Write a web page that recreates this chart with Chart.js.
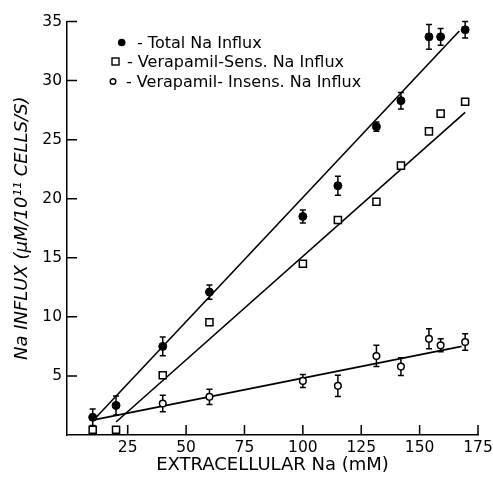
<!DOCTYPE html>
<html>
<head>
<meta charset="utf-8">
<script src="https://cdn.jsdelivr.net/npm/chart.js@4.4.0/dist/chart.umd.min.js"></script>
<style>
  html, body { margin: 0; padding: 0; background: #fff; }
</style>
</head>
<body>
<canvas id="naChart" width="493" height="479"></canvas>
<script>
const naConc = [10, 20, 40, 60, 100, 115, 131.5, 142, 154, 159, 169.5];
const totalInflux = [1.5, 2.5, 7.5, 12.1, 18.5, 21.1, 26.1, 28.3, 33.7, 33.7, 34.3];
const totalErr = [0.7, 0.8, 0.8, 0.6, 0.55, 0.8, 0.4, 0.7, 1.05, 0.7, 0.7];
const sensInflux = [0.45, 0.45, 5.05, 9.55, 14.5, 18.2, 19.75, 22.8, 25.7, 27.2, 28.2];
const insensInflux = [null, null, 2.67, 3.23, 4.58, 4.16, 6.69, 5.79, 8.15, 7.59, 7.87];
const insensErr = [null, null, 0.7, 0.65, 0.55, 0.9, 0.9, 0.75, 0.85, 0.55, 0.7];

// fitted lines, end points
const totalFitX = [11, 167];
const totalFitY = [1.4, 34.2];
const sensFitX = [20, 169.5];
const sensFitY = [1.1, 27.3];
const insensFitX = [11, 168];
const insensFitY = [1.3, 7.5];

const xTicks = [25, 50, 75, 100, 125, 150, 175];
const yTicks = [5, 10, 15, 20, 25, 30, 35];

const legendLabels = ["- Total Na Influx", "- Verapamil-Sens. Na Influx", "- Verapamil- Insens. Na Influx"];

const FONT = "'DejaVu Sans', sans-serif";

function toPoints(xs, ys) {
  return xs.map((x, i) => ({ x: x, y: ys[i] }));
}

// vertical error bars with small caps
const errorBars = {
  id: "errorBars",
  beforeDatasetsDraw(chart) {
    const ctx = chart.ctx;
    const xs = chart.scales.x;
    const ys = chart.scales.y;
    ctx.save();
    ctx.strokeStyle = "#000";
    ctx.lineWidth = 1.5;
    chart.data.datasets.forEach(ds => {
      if (!ds.errors) return;
      ds.data.forEach((p, i) => {
        const e = ds.errors[i];
        if (p.y === null || e === null) return;
        const px = xs.getPixelForValue(p.x);
        const top = ys.getPixelForValue(p.y + e);
        const bot = ys.getPixelForValue(p.y - e);
        ctx.beginPath();
        ctx.moveTo(px, top);
        ctx.lineTo(px, bot);
        ctx.moveTo(px - 3, top);
        ctx.lineTo(px + 3, top);
        ctx.moveTo(px - 3, bot);
        ctx.lineTo(px + 3, bot);
        ctx.stroke();
      });
    });
    ctx.restore();
  }
};

// tick marks pointing into the plot
const innerTicks = {
  id: "innerTicks",
  afterDraw(chart) {
    const { ctx, chartArea, scales } = chart;
    ctx.save();
    ctx.strokeStyle = "#000";
    ctx.lineWidth = 1.5;
    ctx.beginPath();
    scales.x.ticks.forEach(t => {
      const px = scales.x.getPixelForValue(t.value);
      ctx.moveTo(px, chartArea.bottom);
      ctx.lineTo(px, chartArea.bottom - 10);
    });
    scales.y.ticks.forEach(t => {
      const py = scales.y.getPixelForValue(t.value);
      ctx.moveTo(chartArea.left, py);
      ctx.lineTo(chartArea.left + 10, py);
    });
    ctx.stroke();
    ctx.restore();
  }
};

// legend written inside the plot, upper left
const insetLegend = {
  id: "insetLegend",
  afterDraw(chart) {
    const ctx = chart.ctx;
    ctx.save();
    ctx.fillStyle = "#000";
    ctx.strokeStyle = "#000";
    ctx.lineWidth = 1.4;
    ctx.font = "16px " + FONT;
    ctx.textBaseline = "alphabetic";

    ctx.beginPath();
    ctx.arc(121.7, 42.5, 3.8, 0, Math.PI * 2);
    ctx.fill();
    ctx.fillText(legendLabels[0], 137, 47.5);

    ctx.strokeRect(112, 58, 7, 7);
    ctx.fillText(legendLabels[1], 127, 66.5);

    ctx.beginPath();
    ctx.arc(113, 81.5, 2.8, 0, Math.PI * 2);
    ctx.stroke();
    ctx.fillText(legendLabels[2], 126, 87);
    ctx.restore();
  }
};

const lineStyle = {
  type: "line",
  showLine: true,
  borderColor: "#000",
  borderWidth: 1.6,
  pointRadius: 0,
  fill: false
};

new Chart(document.getElementById("naChart"), {
  type: "scatter",
  data: {
    datasets: [
      {
        label: "Total Na Influx",
        data: toPoints(naConc, totalInflux),
        errors: totalErr,
        pointStyle: "circle",
        pointRadius: 4,
        backgroundColor: "#000",
        borderColor: "#000",
        borderWidth: 1
      },
      {
        label: "Verapamil-Sens. Na Influx",
        data: toPoints(naConc, sensInflux),
        pointStyle: "rect",
        pointRadius: 5,
        backgroundColor: "#fff",
        borderColor: "#000",
        borderWidth: 1.5
      },
      {
        label: "Verapamil-Insens. Na Influx",
        data: toPoints(naConc, insensInflux),
        errors: insensErr,
        pointStyle: "circle",
        pointRadius: 3.3,
        backgroundColor: "#fff",
        borderColor: "#000",
        borderWidth: 1.5
      },
      Object.assign({ label: "total fit", data: toPoints(totalFitX, totalFitY) }, lineStyle),
      Object.assign({ label: "sens fit", data: toPoints(sensFitX, sensFitY) }, lineStyle),
      Object.assign({ label: "insens fit", data: toPoints(insensFitX, insensFitY) }, lineStyle)
    ]
  },
  options: {
    responsive: false,
    animation: false,
    devicePixelRatio: 1,
    layout: { padding: { top: 21.5, right: 15, left: 0, bottom: 0 } },
    plugins: {
      legend: { display: false },
      tooltip: { enabled: false }
    },
    scales: {
      x: {
        type: "linear",
        min: -1,
        max: 175,
        afterBuildTicks: s => { s.ticks = xTicks.map(v => ({ value: v })); },
        afterFit: s => { s.height = 44; s.paddingLeft = 0; s.paddingRight = 0; },
        grid: { display: false, drawTicks: false },
        border: { display: true, color: "#000", width: 1.5 },
        ticks: { color: "#000", font: { family: FONT, size: 15.5 }, padding: 4, maxRotation: 0, autoSkip: false },
        title: {
          display: true,
          text: "EXTRACELLULAR Na (mM)",
          color: "#000",
          font: { family: FONT, size: 18 },
          padding: { top: 0, bottom: 3 }
        }
      },
      y: {
        type: "linear",
        min: 0,
        max: 35,
        afterBuildTicks: s => { s.ticks = yTicks.map(v => ({ value: v })); },
        afterFit: s => { s.width = 67; s.paddingTop = 0; s.paddingBottom = 0; },
        grid: { display: false, drawTicks: false },
        border: { display: true, color: "#000", width: 1.5 },
        ticks: { color: "#000", font: { family: FONT, size: 15.5 }, padding: 5, autoSkip: false },
        title: {
          display: true,
          text: "Na INFLUX (\u03BCM/10\u00B9\u00B9 CELLS/S)",
          color: "#000",
          font: { family: FONT, size: 18, style: "italic" },
          padding: { top: 12, bottom: 0 }
        }
      }
    }
  },
  plugins: [errorBars, innerTicks, insetLegend]
});
</script>
</body>
</html>
